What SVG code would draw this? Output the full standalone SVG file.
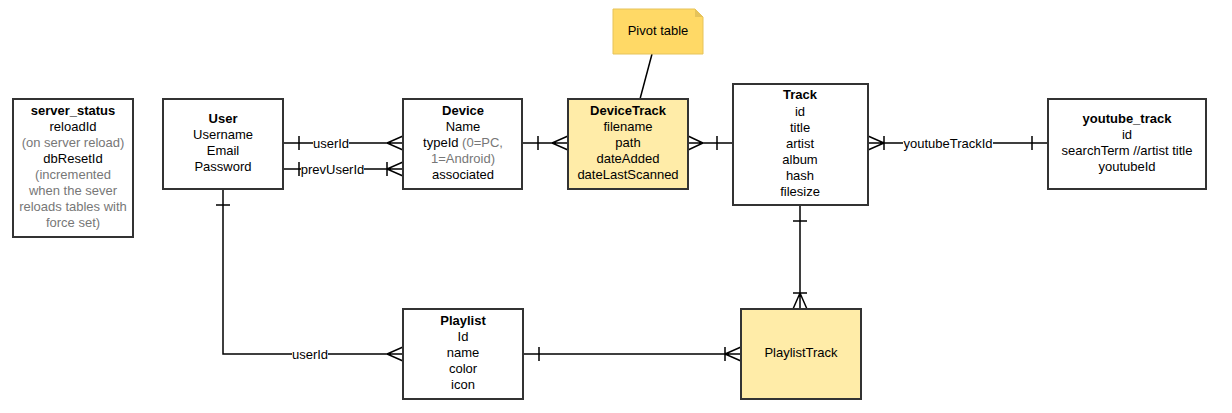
<svg xmlns="http://www.w3.org/2000/svg" width="1232" height="413" viewBox="0 0 1232 413">
<style>
.box{fill:#ffffff;stroke:#333333;stroke-width:2}
.yel{fill:#ffeca8;stroke:#333333;stroke-width:2}
.ln{fill:none;stroke:#000000;stroke-width:1.5}
text{font-family:"Liberation Sans",Arial,sans-serif;font-size:13px;fill:#000000;text-anchor:middle;dominant-baseline:central}
.b{font-weight:bold}
.g{fill:#777777}
.bg{fill:#ffffff}
</style>
<rect width="1232" height="413" fill="#ffffff"/>
<g id="connectors">
<!-- User - Device userId -->
<path class="ln" d="M283,143 H403 M299,136 V150 M403,136 L387,143 L403,150"/>
<rect class="bg" x="313" y="136" width="36" height="14"/>
<text x="331" y="143">userId</text>
<!-- prevUserId -->
<path class="ln" d="M283,169 H403 M299,162 V176 M387,162 V176 M403,162 L387,169 L403,176"/>
<rect class="bg" x="301" y="162" width="63" height="14"/>
<text x="332.5" y="169">prevUserId</text>
<!-- Device - DeviceTrack -->
<path class="ln" d="M522,143 H568 M538,136 V150 M568,136 L552,143 L568,150"/>
<!-- DeviceTrack - Track -->
<path class="ln" d="M688,143 H733 M717,136 V150 M688,136 L703,143 L688,150"/>
<!-- Track - youtube_track -->
<path class="ln" d="M868,143 H1048 M884,136 V150 M868,136 L884,143 L868,150 M1032,136 V150"/>
<rect class="bg" x="903" y="136" width="90" height="14"/>
<text x="948" y="143">youtubeTrackId</text>
<!-- Track - PlaylistTrack -->
<path class="ln" d="M800,205 V309 M793,221 H807 M793,293 H807 M793,309 L800,293 L807,309"/>
<!-- Playlist - PlaylistTrack -->
<path class="ln" d="M523,354 H741 M539,347 V361 M725,347 V361 M741,347 L725,354 L741,361"/>
<!-- User - Playlist -->
<path class="ln" d="M223,189 V354 H403 M216,205 H230 M403,347 L387,354 L403,361"/>
<rect class="bg" x="292" y="347" width="36" height="14"/>
<text x="310" y="354">userId</text>
<!-- note line -->
<path class="ln" d="M652,54 L640,99"/>
</g>
<g id="server_status">
<rect class="box" x="13" y="99" width="120" height="138"/>
<text class="b" x="73" y="110">server_status</text>
<text x="73" y="126">reloadId</text>
<text class="g" x="73" y="142">(on server reload)</text>
<text x="73" y="158">dbResetId</text>
<text class="g" x="73" y="174">(incremented</text>
<text class="g" x="73" y="190">when the sever</text>
<text class="g" x="73" y="206">reloads tables with</text>
<text class="g" x="73" y="222">force set)</text>
</g>
<g id="User">
<rect class="box" x="163" y="99" width="120" height="90"/>
<text class="b" x="223" y="118">User</text>
<text x="223" y="134">Username</text>
<text x="223" y="150">Email</text>
<text x="223" y="166">Password</text>
</g>
<g id="Device">
<rect class="box" x="403" y="99" width="119" height="90"/>
<text class="b" x="463" y="110">Device</text>
<text x="463" y="126">Name</text>
<text x="463" y="142">typeId <tspan class="g">(0=PC,</tspan></text>
<text class="g" x="463" y="158">1=Android)</text>
<text x="463" y="174">associated</text>
</g>
<g id="DeviceTrack">
<rect class="yel" x="568" y="99" width="120" height="90"/>
<text class="b" x="628" y="110">DeviceTrack</text>
<text x="628" y="126">filename</text>
<text x="628" y="142">path</text>
<text x="628" y="158">dateAdded</text>
<text x="628" y="174">dateLastScanned</text>
</g>
<g id="PivotNote">
<path d="M613,9 H695 L703,17 V54 H613 Z" fill="#ffd966" stroke="#e6c35a" stroke-width="1"/>
<path d="M695,9 V17 H703 Z" fill="#e6c35a"/>
<text x="658" y="30">Pivot table</text>
</g>
<g id="Track">
<rect class="box" x="733" y="84" width="135" height="121"/>
<text class="b" x="800" y="94">Track</text>
<text x="800" y="111">id</text>
<text x="800" y="127">title</text>
<text x="800" y="143">artist</text>
<text x="800" y="159">album</text>
<text x="800" y="175">hash</text>
<text x="800" y="191">filesize</text>
</g>
<g id="youtube_track">
<rect class="box" x="1048" y="99" width="158" height="90"/>
<text class="b" x="1127" y="118">youtube_track</text>
<text x="1127" y="134">id</text>
<text x="1127" y="150">searchTerm //artist title</text>
<text x="1127" y="166">youtubeId</text>
</g>
<g id="Playlist">
<rect class="box" x="403" y="309" width="120" height="90"/>
<text class="b" x="463" y="320">Playlist</text>
<text x="463" y="336">Id</text>
<text x="463" y="352">name</text>
<text x="463" y="368">color</text>
<text x="463" y="384">icon</text>
</g>
<g id="PlaylistTrack">
<rect class="yel" x="741" y="309" width="120" height="90"/>
<text x="801" y="352">PlaylistTrack</text>
</g>
</svg>
